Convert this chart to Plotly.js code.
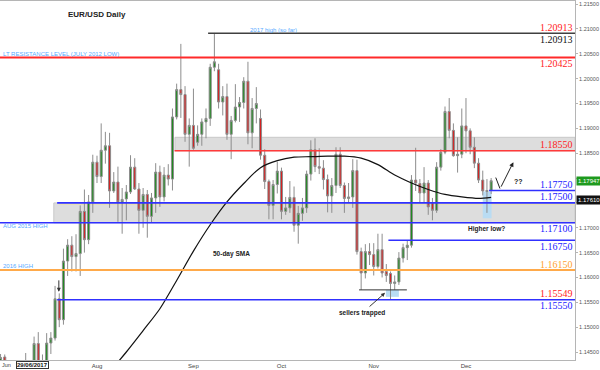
<!DOCTYPE html>
<html><head><meta charset="utf-8">
<script src="https://cdn.plot.ly/plotly-3.0.1.min.js"></script>
<style>html,body{margin:0;padding:0;background:#fff}#chart{width:600px;height:370px}</style>
</head><body><div id="chart"></div>
<script>
// ---------- DATA ----------
const dates = [
'2017-06-29','2017-06-30',
'2017-07-03','2017-07-04','2017-07-05','2017-07-06','2017-07-07','2017-07-10','2017-07-11','2017-07-12','2017-07-13','2017-07-14',
'2017-07-17','2017-07-18','2017-07-19','2017-07-20','2017-07-21','2017-07-24','2017-07-25','2017-07-26','2017-07-27','2017-07-28','2017-07-31',
'2017-08-01','2017-08-02','2017-08-03','2017-08-04','2017-08-07','2017-08-08','2017-08-09','2017-08-10','2017-08-11','2017-08-14','2017-08-15',
'2017-08-16','2017-08-17','2017-08-18','2017-08-21','2017-08-22','2017-08-23','2017-08-24','2017-08-25','2017-08-28','2017-08-29','2017-08-30','2017-08-31',
'2017-09-01','2017-09-04','2017-09-05','2017-09-06','2017-09-07','2017-09-08','2017-09-11','2017-09-12','2017-09-13','2017-09-14','2017-09-15',
'2017-09-18','2017-09-19','2017-09-20','2017-09-21','2017-09-22','2017-09-25','2017-09-26','2017-09-27','2017-09-28','2017-09-29',
'2017-10-02','2017-10-03','2017-10-04','2017-10-05','2017-10-06','2017-10-09','2017-10-10','2017-10-11','2017-10-12','2017-10-13',
'2017-10-16','2017-10-17','2017-10-18','2017-10-19','2017-10-20','2017-10-23','2017-10-24','2017-10-25','2017-10-26','2017-10-27','2017-10-30','2017-10-31',
'2017-11-01','2017-11-02','2017-11-03','2017-11-06','2017-11-07','2017-11-08','2017-11-09','2017-11-10','2017-11-13','2017-11-14','2017-11-15',
'2017-11-16','2017-11-17','2017-11-20','2017-11-21','2017-11-22','2017-11-23','2017-11-24','2017-11-27','2017-11-28','2017-11-29','2017-11-30',
'2017-12-01','2017-12-04','2017-12-05','2017-12-06','2017-12-07','2017-12-08','2017-12-11'
];
const open = [1.1376,1.1440,
1.1426,1.1362,1.1346,1.1352,1.1423,1.1400,1.1400,1.1467,1.1414,1.1398,
1.1468,1.1478,1.1557,1.1515,1.1633,1.1665,1.1642,1.1648,1.1733,1.1676,1.1752,
1.1832,1.1803,1.1856,1.1865,1.1774,1.1792,1.1752,1.1758,1.1772,1.1822,1.1778,
1.1735,1.1767,1.1723,1.1760,1.1812,1.1762,1.1806,1.1798,1.1923,1.1978,1.1968,1.1888,
1.1906,1.1872,1.1888,1.1913,1.1920,1.2023,1.2018,1.1953,1.1964,1.1888,1.1916,
1.1943,1.1952,1.1995,1.1891,1.1940,1.1920,1.1846,1.1793,1.1745,1.1787,
1.1814,1.1733,1.1740,1.1761,1.1705,1.1729,1.1740,1.1808,1.1857,1.1823,
1.1820,1.1797,1.1764,1.1785,1.1848,1.1785,1.1759,1.1762,1.1815,1.1652,1.1609,1.1652,
1.1646,1.1622,1.1656,1.1612,1.1608,1.1588,1.1591,1.1639,1.1660,1.1665,1.1796,
1.1789,1.1770,1.1790,1.1750,1.1735,1.1822,1.1852,1.1934,1.1896,1.1845,1.1848,
1.1905,1.1895,1.1862,1.1830,1.1796,1.1773,1.1775];
const high = [1.1446,1.1445,
1.1432,1.1369,1.1366,1.1425,1.1448,1.1424,1.1481,1.1490,1.1445,1.1488,
1.1490,1.1583,1.1568,1.1658,1.1677,1.1683,1.1687,1.1745,1.1777,1.1766,1.1847,
1.1845,1.1910,1.1893,1.1891,1.1812,1.1823,1.1780,1.1786,1.1846,1.1840,1.1790,
1.1780,1.1776,1.1770,1.1830,1.1825,1.1822,1.1828,1.1940,1.1990,1.2070,1.1985,1.1920,
1.1980,1.1906,1.1920,1.1940,1.2030,1.2092,1.2030,1.1985,1.1990,1.1925,1.1989,
1.1963,1.2003,1.2034,1.1961,1.1983,1.1938,1.1858,1.1797,1.1796,1.1833,
1.1821,1.1762,1.1794,1.1783,1.1744,1.1760,1.1815,1.1876,1.1880,1.1860,
1.1836,1.1807,1.1800,1.1862,1.1862,1.1791,1.1790,1.1838,1.1837,1.1660,1.1667,1.1669,
1.1669,1.1688,1.1688,1.1627,1.1612,1.1604,1.1651,1.1668,1.1675,1.1806,1.1861,
1.1798,1.1822,1.1796,1.1760,1.1832,1.1858,1.1944,1.1961,1.1910,1.1882,1.1940,
1.1961,1.1900,1.1882,1.1840,1.1815,1.1798,1.1800];
const low = [1.1370,1.1394,
1.1359,1.1334,1.1312,1.1346,1.1390,1.1380,1.1395,1.1390,1.1390,1.1380,
1.1446,1.1473,1.1500,1.1505,1.1603,1.1612,1.1612,1.1603,1.1650,1.1667,1.1730,
1.1790,1.1790,1.1829,1.1740,1.1770,1.1712,1.1688,1.1715,1.1768,1.1776,1.1688,
1.1700,1.1680,1.1710,1.1730,1.1742,1.1753,1.1785,1.1775,1.1918,1.1921,1.1873,1.1823,
1.1857,1.1865,1.1865,1.1880,1.1905,1.2015,1.1940,1.1926,1.1877,1.1838,1.1912,
1.1913,1.1940,1.1868,1.1860,1.1910,1.1837,1.1778,1.1717,1.1717,1.1769,
1.1717,1.1726,1.1730,1.1692,1.1668,1.1714,1.1730,1.1795,1.1812,1.1808,
1.1777,1.1731,1.1730,1.1770,1.1780,1.1730,1.1750,1.1740,1.1646,1.1575,1.1598,1.1625,
1.1604,1.1618,1.1600,1.1591,1.1555,1.1575,1.1585,1.1630,1.1635,1.1660,1.1774,
1.1750,1.1750,1.1726,1.1715,1.1730,1.1815,1.1848,1.1880,1.1843,1.1811,1.1840,
1.1850,1.1848,1.1820,1.1790,1.1765,1.1730,1.1768];
const close = [1.1439,1.1426,
1.1362,1.1346,1.1352,1.1423,1.1400,1.1400,1.1467,1.1414,1.1398,1.1468,
1.1478,1.1557,1.1515,1.1633,1.1665,1.1642,1.1648,1.1733,1.1676,1.1752,1.1832,
1.1803,1.1856,1.1865,1.1774,1.1792,1.1752,1.1757,1.1772,1.1822,1.1778,1.1735,
1.1767,1.1723,1.1760,1.1812,1.1762,1.1806,1.1798,1.1923,1.1978,1.1968,1.1888,1.1906,
1.1860,1.1888,1.1913,1.1920,1.2023,1.2034,1.1953,1.1964,1.1888,1.1916,1.1943,
1.1952,1.1995,1.1891,1.1940,1.1950,1.1846,1.1793,1.1745,1.1787,1.1814,
1.1733,1.1740,1.1761,1.1705,1.1729,1.1740,1.1808,1.1857,1.1823,1.1820,
1.1797,1.1764,1.1785,1.1848,1.1785,1.1759,1.1762,1.1815,1.1652,1.1609,1.1652,1.1646,
1.1622,1.1656,1.1609,1.1604,1.1588,1.1591,1.1639,1.1660,1.1665,1.1796,1.1790,
1.1770,1.1790,1.1742,1.1735,1.1822,1.1852,1.1934,1.1896,1.1845,1.1848,1.1905,
1.1895,1.1862,1.1830,1.1796,1.1774,1.1775,1.17947];

// 50-day SMA
const smaDates = ['2017-08-04','2017-08-10','2017-08-16','2017-08-22','2017-08-28','2017-09-01','2017-09-07','2017-09-13',
'2017-09-19','2017-09-25','2017-09-29','2017-10-05','2017-10-11','2017-10-17','2017-10-23','2017-10-27','2017-11-02',
'2017-11-08','2017-11-14','2017-11-20','2017-11-24','2017-11-30','2017-12-06','2017-12-11'];
const smaValues = [1.1410,1.1450,1.1493,1.1537,1.1594,1.1653,1.1706,1.1752,
1.1789,1.1821,1.1835,1.1842,1.1843,1.1844,1.1844,1.1840,1.1827,
1.1806,1.1790,1.1777,1.1767,1.1762,1.1759,1.1761];

// horizontal levels
const levelValues = [1.20913, 1.20425, 1.18550, 1.17750, 1.17500, 1.17100, 1.16750, 1.16150, 1.15550];
const levelStarts = ['2017-09-07', null, '2017-08-28', '2017-12-11', '2017-07-19', null, '2017-11-07', null, '2017-07-19'];
const levelLabels = [1.20913, 1.20913, 1.20425, 1.18550, 1.17750, 1.17500, 1.17100, 1.16750, 1.16150, 1.15549, 1.15550];
const zoneUpper = [1.18550, 1.18820];
const zoneLower = [1.17100, 1.17500];
const yTicks = [1.145,1.150,1.155,1.160,1.165,1.170,1.175,1.180,1.185,1.190,1.195,1.200,1.205,1.210,1.215];
const yTicksHidden = [1.175, 1.180]; // covered by the price tags in the reference
const monthTicks = ['2017-08-01','2017-09-01','2017-10-02','2017-11-01','2017-12-01'];
const monthLabels = ['Aug','Sep','Oct','Nov','Dec'];

// ---------- STYLE / LAYOUT ----------
const X_END = 137, X_START = -0.13;
const W = 575, H0 = 1, H1 = 360;
const idx = d => dates.indexOf(d);
const px = x => x / W;
const py = y => (H1 - y) / (H1 - H0);
const FONT = 'Liberation Sans, Arial, sans-serif';

const levelColors = ['#404040','#ff2a2a','#ff3a3a','#3030ff','#3030ff','#3030ff','#3030ff','#ffaa4a','#3030ff'];
const levelWidths = [1.5,2,1.5,1.6,1.6,1.6,1.6,1.8,1.6];
const labelColors = ['#ff1a1a','#111111','#ff1a1a','#ff1a1a','#2020ff','#2020ff','#2020ff','#2020ff','#ffa030','#ff1a1a','#2020ff'];
const labelShift  = [6,-6,-6,6,6,6,-6,-6,6,6,-6];

const shapes = [];
shapes.push({type:'rect', xref:'x', yref:'y', layer:'below', x0: idx('2017-08-28')-0.4, x1: X_END, y0: zoneUpper[0], y1: zoneUpper[1], fillcolor:'#dddddd', line:{color:'#c9c9c9', width:1}});
shapes.push({type:'rect', xref:'x', yref:'y', layer:'below', x0: idx('2017-07-18')-0.3, x1: X_END, y0: zoneLower[0], y1: zoneLower[1], fillcolor:'#dddddd', line:{color:'#c9c9c9', width:1}});
shapes.push({type:'line', xref:'x', yref:'y', layer:'below', x0: idx('2017-07-19'), x1: X_END, y0: zoneLower[1]-0.00025, y1: zoneLower[1]-0.00025, line:{color:'#eee2a0', width:1}});
shapes.push({type:'rect', xref:'x', yref:'y', layer:'below', x0: idx('2017-12-08')-1.0, x1: idx('2017-12-08')+1.1, y0: low[idx('2017-12-08')]-0.0011, y1: open[idx('2017-12-08')], fillcolor:'#b9dcf3', line:{width:0}});
shapes.push({type:'rect', xref:'x', yref:'y', layer:'below', x0: idx('2017-11-07')-1.1, x1: idx('2017-11-07')+2.0, y0: low[idx('2017-11-07')]+0.0006, y1: low[idx('2017-10-27')], fillcolor:'#b9dcf3', line:{width:0}});
levelValues.forEach((v,i) => {
  const s = levelStarts[i];
  shapes.push({type:'line', xref:'x', yref:'y', layer:'above', x0: s ? idx(s)-0.5 : X_START, x1: X_END, y0: v, y1: v, line:{color: levelColors[i], width: levelWidths[i]}});
});
shapes.push({type:'line', xref:'x', yref:'y', layer:'above', x0: idx('2017-10-27')-0.5, x1: idx('2017-11-13')-0.1, y0: low[idx('2017-10-27')], y1: low[idx('2017-10-27')], line:{color:'#333', width:1}});
shapes.push({type:'line', xref:'x', yref:'y', layer:'above', x0: 118.1, y0: 1.1801, x1: 119.1, y1: 1.1779, line:{color:'#222', width:1}});

const annotations = [];
levelLabels.forEach((v,i) => {
  annotations.push({xref:'paper', yref:'y', x:1, y:v, xanchor:'right', yanchor:'middle', yshift: labelShift[i], showarrow:false,
    text: v.toFixed(5), font:{family:'Liberation Serif, Times New Roman, serif', size:10, color: labelColors[i]}});
});
const txt = (t, x, y, opts={}) => annotations.push(Object.assign({xref:'paper', yref:'paper', x: px(x), y: py(y), xanchor:'left', yanchor:'middle', showarrow:false, text:t,
  font:{family:FONT, size:6, color:'#55aaff'}}, opts));
txt('<b>EUR/USD Daily</b>', 97, 14, {xanchor:'center', font:{family:FONT, size:8, color:'#222'}});
txt('LT RESISTANCE LEVEL (JULY 2012 LOW)', 1, 54);
txt('2017 high (so far)', 248, 30);
txt('AUG 2015 HIGH', 1, 226);
txt('2016 HIGH', 1, 266);
txt('<b>50-day SMA</b>', 211, 254, {font:{family:FONT, size:6.5, color:'#222'}});
txt('<b>sellers trapped</b>', 337, 313, {font:{family:FONT, size:6.5, color:'#222'}});
txt('<b>Higher low?</b>', 466, 229, {font:{family:FONT, size:6.5, color:'#222'}});
txt('<b>??</b>', 512, 181, {font:{family:FONT, size:7, color:'#222'}});
annotations.push({xref:'paper', yref:'paper', x: px(32), y: py(365), xanchor:'center', yanchor:'middle', showarrow:false,
  text:'<b>29/06/2017</b>', font:{family:FONT, size:6, color:'#111'}, bgcolor:'#ffffff', bordercolor:'#333', borderwidth:1, borderpad:0});
annotations.push({xref:'paper', yref:'paper', x: 0, y: py(365), xanchor:'left', yanchor:'middle', showarrow:false,
  text:'Jun', font:{family:FONT, size:5.5, color:'#444'}});
annotations.push({xref:'x', yref:'y', x: 91.7, y: 1.1569, ax: -17, ay: 15, text:'', showarrow:true, arrowhead:2, arrowsize:0.8, arrowwidth:1, arrowcolor:'#333'});
annotations.push({xref:'x', yref:'y', x: 13.9, y: 1.1571, ax: 0, ay: -13, text:'', showarrow:true, arrowhead:2, arrowsize:0.8, arrowwidth:1, arrowcolor:'#333'});
annotations.push({xref:'x', yref:'y', x: 122.3, y: 1.1832, ax: -13, ay: 26, text:'', showarrow:true, arrowhead:2, arrowsize:0.9, arrowwidth:1, arrowcolor:'#222'});
const last = close.length - 1;
annotations.push({xref:'paper', yref:'y', x:1, y: close[last], xanchor:'left', yanchor:'middle', showarrow:false, xshift:1,
  text: close[last].toFixed(5), font:{family:FONT, size:6, color:'#fff'}, bgcolor:'#1e9a1e', borderpad:1});
annotations.push({xref:'paper', yref:'y', x:1, y: smaValues[smaValues.length-1] - 0.0006, xanchor:'left', yanchor:'middle', showarrow:false, xshift:1,
  text: smaValues[smaValues.length-1].toFixed(5), font:{family:FONT, size:6, color:'#fff'}, bgcolor:'#111', borderpad:1});

const traces = [
  {type:'candlestick', x: dates, open, high, low, close, hoverinfo:'skip', whiskerwidth:0,
   increasing:{line:{color:'#8d8d8d', width:1}, fillcolor:'#1f8a1f'},
   decreasing:{line:{color:'#8d8d8d', width:1}, fillcolor:'#d42222'}},
  {type:'scatter', mode:'lines', x: smaDates, y: smaValues, hoverinfo:'skip',
   line:{color:'#111', width:1.2, shape:'spline', smoothing:0.8}}
];

const layout = {
  width:600, height:370, margin:{l:0, r:25, t:1, b:10},
  paper_bgcolor:'#fff', plot_bgcolor:'#fff', showlegend:false,
  font:{family:FONT, size:6, color:'#444'},
  xaxis:{type:'category', range:[X_START, X_END], rangeslider:{visible:false},
    tickvals: monthTicks, ticktext: monthLabels, ticks:'', showgrid:false, zeroline:false,
    showline:true, mirror:true, linecolor:'#b5b5b5', linewidth:1,
    tickfont:{family:FONT, size:6, color:'#444'}},
  yaxis:{side:'right', range:[1.14339, 1.21563], tickvals: yTicks,
    ticktext: yTicks.map(v => yTicksHidden.includes(v) ? '' : v.toFixed(5)),
    ticks:'outside', ticklen:2, tickcolor:'#b5b5b5', showgrid:false, zeroline:false,
    showline:true, mirror:true, linecolor:'#b5b5b5', linewidth:1,
    tickfont:{family:FONT, size:5.5, color:'#555'}},
  shapes, annotations
};
Plotly.newPlot('chart', traces, layout, {displayModeBar:false, staticPlot:true});
</script>
</body></html>
